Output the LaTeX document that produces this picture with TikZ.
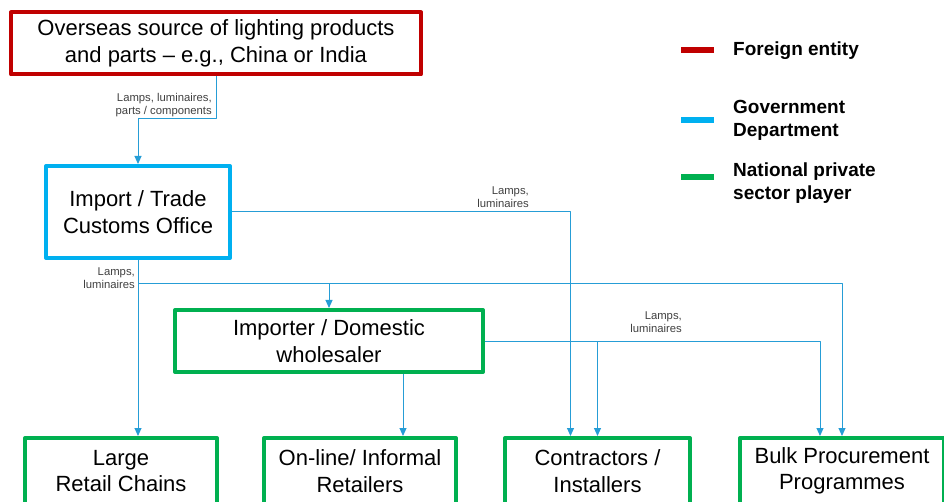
\documentclass[tikz,border=0pt]{standalone}
\usepackage{fontspec}
\setmainfont{Liberation Sans}
\usetikzlibrary{arrows.meta}
\definecolor{fremd}{RGB}{192,0,0}
\definecolor{amt}{RGB}{0,176,240}
\definecolor{privat}{RGB}{0,176,80}
\definecolor{fluss}{RGB}{38,157,214}
\definecolor{notiz}{RGB}{64,64,64}
\begin{document}
\begin{tikzpicture}[x=1pt,y=-1pt,line join=round,
	box/.style={draw,line width=4pt,fill=white,minimum height=62pt,align=center,
		font=\fontsize{22}{26.5}\selectfont},
	flow/.style={draw=fluss,line width=1pt,-{Triangle[length=8pt,width=7pt]}},
	ware/.style={text=notiz,align=right,inner sep=0pt,font=\fontsize{11.3}{13}\selectfont},
	legende/.style={anchor=west,align=left,inner sep=0pt,font=\bfseries\fontsize{19}{23}\selectfont}]
	\useasboundingbox (0,0) rectangle (944,502);
	\clip (0,0) rectangle (944,502);
	% Akteure
	\node [box, draw = fremd, minimum width = 410pt] (quelle) at (216,43.5)
		{Overseas source of lighting products\\and parts -- e.g., China or India};
	\node [box, draw = amt, minimum width = 184pt, minimum height = 92pt] (zoll) at (138,212)
		{Import / Trade\\Customs Office};
	\node [box, draw = privat, minimum width = 308pt] (grosshandel) at (329,341)
		{Importer / Domestic\\wholesaler};
	\node [box, draw = privat, minimum width = 192pt, minimum height = 66pt] (handel) at (121,471)
		{Large\\Retail Chains};
	\node [box, draw = privat, minimum width = 192pt, minimum height = 66pt] (online) at (360,471)
		{On-line/ Informal\\Retailers};
	\node [box, draw = privat, minimum width = 185pt, minimum height = 66pt] (installateur) at (597.5,471)
		{Contractors /\\Installers};
	\node [box, draw = privat, minimum width = 204pt, minimum height = 66pt] (beschaffung) at (842,471)
		{Bulk Procurement\\Programmes};
	% Warenfluss
	\coordinate (knick) at (138,119);
	\coordinate (verteiler) at (138,284);
	\draw [flow] (quelle.south) |- (knick) -- (zoll.north);
	\draw [flow] (zoll.east) -| ([xshift=-27pt]installateur.north);
	\draw [flow] (zoll.south) -- (zoll.south |- handel.north);
	\draw [flow] (verteiler) -| (beschaffung.north);
	\draw [flow] (verteiler -| grosshandel.north) -- (grosshandel.north);
	\draw [flow] (grosshandel.east) -| ([xshift=-22pt]beschaffung.north);
	\draw [flow] (grosshandel.east -| installateur.north) -- (installateur.north);
	\draw [flow] ([xshift=74pt]grosshandel.south) -- ([xshift=74pt]grosshandel.south |- online.north);
	% Beschriftung der Waren
	\node [ware, anchor = east] (ware1) at (212,105) {Lamps, luminaires,\\parts / components};
	\node [ware, anchor = east] (ware2) at (529,197) {Lamps,\\luminaires};
	\node [ware, anchor = east] (ware3) at (135,278) {Lamps,\\luminaires};
	\node [ware, anchor = east] (ware4) at (682,322) {Lamps,\\luminaires};
	% Legende
	\draw [fremd, line width = 6pt] (681,50) -- (714,50);
	\draw [amt, line width = 6pt] (681,120) -- (714,120);
	\draw [privat, line width = 6pt] (681,177) -- (714,177);
	\node [legende] (leg1) at (733,51) {Foreign entity};
	\node [legende] (leg2) at (733,120) {Government\\Department};
	\node [legende] (leg3) at (733,183) {National private\\sector player};
\end{tikzpicture}
\end{document}
